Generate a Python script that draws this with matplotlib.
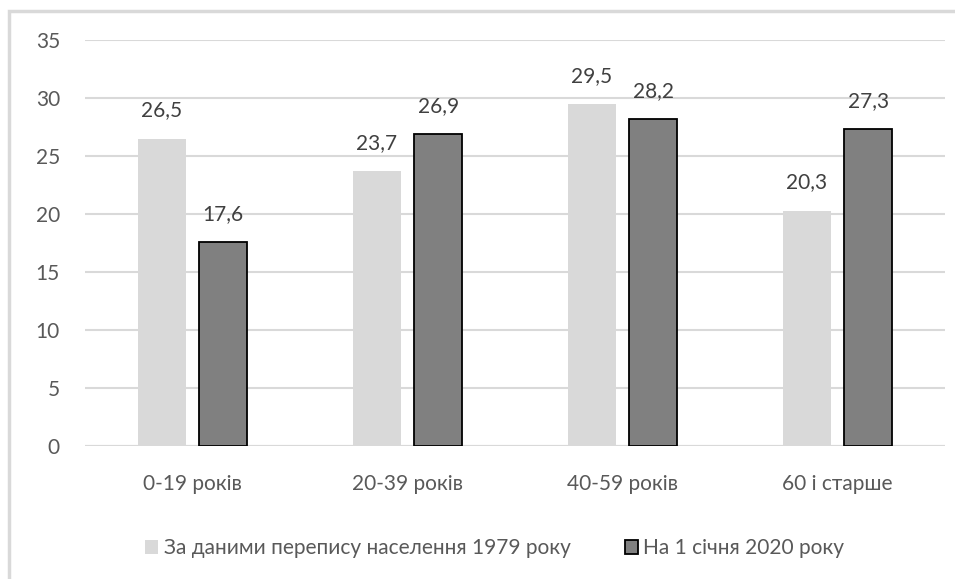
import matplotlib
matplotlib.use('Agg')
import matplotlib.pyplot as plt
from matplotlib.patches import Rectangle
import numpy as np

categories = ['0-19 років', '20-39 років', '40-59 років', '60 і старше']
census_1979 = [26.5, 23.7, 29.5, 20.3]
jan_2020 = [17.6, 26.9, 28.2, 27.3]
series_names = ['За даними перепису населення 1979 року', 'На 1 січня 2020 року']

plt.rcParams['font.family'] = ['Lato', 'DejaVu Sans']
txt = '#595959'

fig = plt.figure(figsize=(9.55, 5.79), dpi=100)
ax = fig.add_axes([85 / 955, 1 - 446 / 579, 860 / 955, 406 / 579])

x = np.arange(len(categories))
w = 0.223
off = 0.143
b1 = ax.bar(x - off, census_1979, w, color='#d9d9d9', label=series_names[0], zorder=2)
b2 = ax.bar(x + off, jan_2020, w, color='#808080', edgecolor='black', linewidth=1.3,
            label=series_names[1], zorder=2)

for bars, vals in [(b1, census_1979), (b2, jan_2020)]:
    for r, v in zip(bars, vals):
        ax.annotate(f'{v:.1f}'.replace('.', ','), (r.get_x() + r.get_width() / 2, v),
                    xytext=(0, 13), textcoords='offset points', ha='center', va='bottom',
                    fontsize=15, color='#404040')

ax.set_xlim(-0.5, 3.5)
ax.set_ylim(0, 35)
ax.set_yticks(range(0, 36, 5))
ax.set_xticks(x)
ax.set_xticklabels(categories)
ax.tick_params(length=0, labelsize=15, colors=txt)
ax.tick_params(axis='y', pad=18)
ax.tick_params(axis='x', pad=20)
ax.yaxis.grid(True, color='#d9d9d9', linewidth=1.5, zorder=0)
ax.set_axisbelow(True)
for s in ax.spines.values():
    s.set_visible(False)
ax.axhline(0, color='#d9d9d9', linewidth=1.5, zorder=1)

leg = fig.legend(loc='center', bbox_to_anchor=(0.518, 1 - 548 / 579), ncol=2, frameon=False,
                 fontsize=15, handlelength=0.65, handleheight=0.65, handletextpad=0.25,
                 columnspacing=2.6)
for t in leg.get_texts():
    t.set_color(txt)

fig.add_artist(Rectangle((8.5 / 955, -0.1), 1.2, 1.1 - 11 / 579, transform=fig.transFigure,
                         fill=False, edgecolor='#d9d9d9', linewidth=2.5))

fig.savefig('out.png', dpi=100, facecolor='white')
